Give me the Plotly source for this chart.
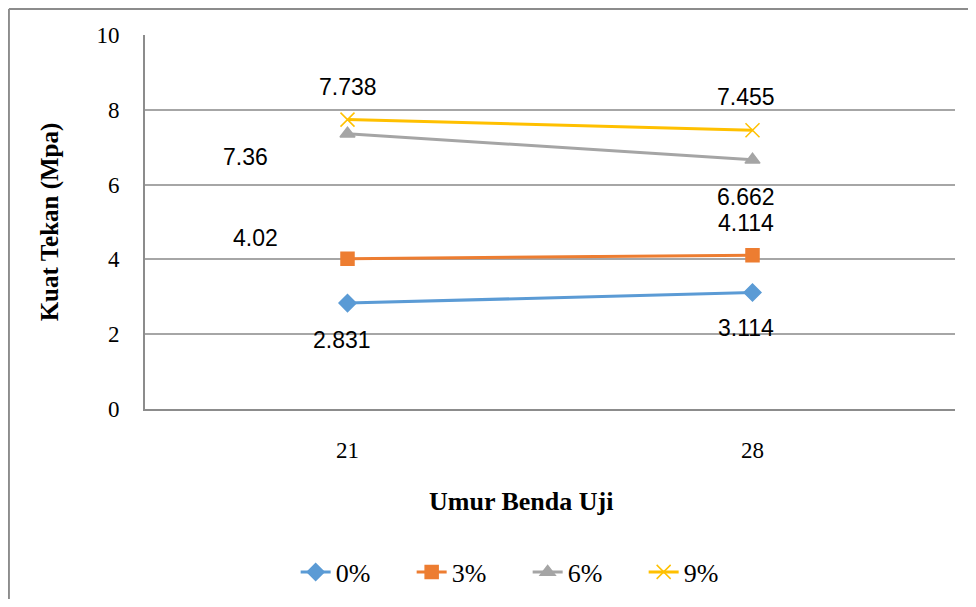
import plotly.graph_objects as go

ages = ["21", "28"]
series_names = ["0%", "3%", "6%", "9%"]
strength_0 = [2.831, 3.114]
strength_3 = [4.02, 4.114]
strength_6 = [7.36, 6.662]
strength_9 = [7.738, 7.455]
value_labels = [
    ["2.831", "3.114"],
    ["4.02", "4.114"],
    ["7.36", "6.662"],
    ["7.738", "7.455"],
]

colors = ["#5B9BD5", "#ED7D31", "#A5A5A5", "#FFC000"]
symbols = ["diamond", "square", "triangle-up", "x-thin-open"]
# label offsets in pixels (x, y) per series / point
offsets = [
    [(-6, -37), (-7, -35)],
    [(-92, 21), (-7, 32)],
    [(-102, -23), (-7, -37)],
    [(0, 33), (-7, 33)],
]

all_series = [strength_0, strength_3, strength_6, strength_9]

fig = go.Figure()
for name, ys, color, sym in zip(series_names, all_series, colors, symbols):
    fig.add_trace(
        go.Scatter(
            x=ages,
            y=ys,
            mode="lines+markers",
            name=name,
            line=dict(color=color, width=3),
            marker=dict(
                symbol=sym,
                color=color,
                size=13 if sym != "x-thin-open" else 14,
                line=dict(color=color, width=1.5),
            ),
        )
    )

# category axis: annotations use the category index
for ys, labels, offs in zip(all_series, value_labels, offsets):
    for i, (y, text, (dx, dy)) in enumerate(zip(ys, labels, offs)):
        fig.add_annotation(
            x=i,
            y=y,
            text=text,
            showarrow=False,
            xshift=dx,
            yshift=dy,
            borderpad=0,
            font=dict(family="Liberation Sans", size=23, color="#000000"),
        )

# x axis title sits a bit left of the plot centre in the original
fig.add_annotation(
    xref="paper", yref="paper",
    x=0.464, y=-0.246,
    xanchor="center", yanchor="middle",
    text="<b>Umur Benda Uji</b>",
    showarrow=False,
    font=dict(family="Liberation Serif", size=26, color="#000000"),
)

# outer chart border (top and left only visible)
fig.add_shape(type="line", xref="paper", yref="paper",
              x0=-0.168, x1=1.03, y0=1.0695, y1=1.0695,
              line=dict(color="#8c8c8c", width=2))
fig.add_shape(type="line", xref="paper", yref="paper",
              x0=-0.168, x1=-0.168, y0=1.0695, y1=-0.55,
              line=dict(color="#8c8c8c", width=2))

fig.update_layout(
    width=960,
    height=591,
    margin=dict(l=137, r=13, t=27, b=190),
    plot_bgcolor="#ffffff",
    paper_bgcolor="#ffffff",
    font=dict(family="Liberation Serif", color="#000000"),
    showlegend=True,
    legend=dict(
        orientation="h",
        x=0.186,
        xanchor="left",
        yref="container",
        y=0.0457,
        yanchor="middle",
        font=dict(family="Liberation Serif", size=26),
        entrywidth=71,
    ),
    xaxis=dict(
        type="category",
        range=[-0.5, 1.5],
        automargin=False,
        showgrid=False,
        showline=True,
        linecolor="#8c8c8c",
        linewidth=2,
        ticks="",
        ticklabelstandoff=19,
        tickfont=dict(family="Liberation Serif", size=23),
    ),
    yaxis=dict(
        range=[0, 10],
        dtick=2,
        automargin=False,
        showgrid=True,
        gridcolor="#a6a6a6",
        gridwidth=1.5,
        zeroline=False,
        showline=True,
        linecolor="#8c8c8c",
        linewidth=2,
        ticks="",
        ticklabelstandoff=19,
        tickfont=dict(family="Liberation Serif", size=23),
        title=dict(
            text="<b>Kuat Tekan (Mpa)</b>",
            font=dict(family="Liberation Serif", size=25),
            standoff=31,
        ),
    ),
)

fig.write_html("out.html")
